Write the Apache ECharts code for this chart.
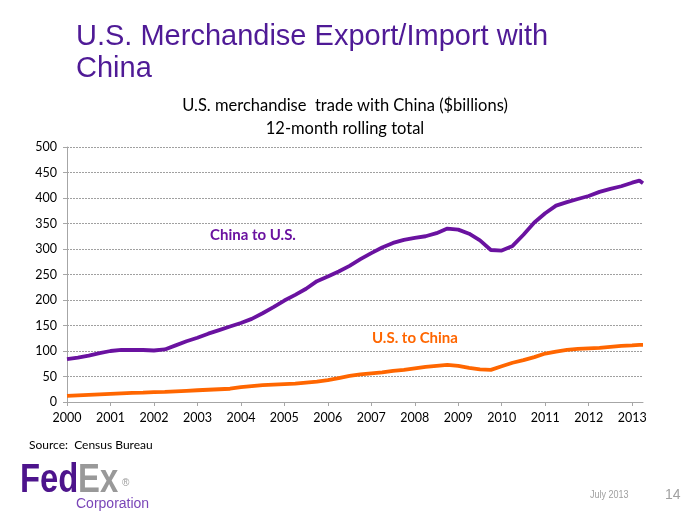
<!DOCTYPE html>
<html><head><meta charset="utf-8">
<script src="https://cdn.jsdelivr.net/npm/echarts@6/dist/echarts.min.js"></script>
<style>html,body{margin:0;padding:0;background:#fff}#c{width:700px;height:525px}</style>
</head><body><div id="c"></div>
<script>
// Time points (fractional years)
var years = [2000,2000.25,2000.5,2000.75,2001,2001.25,2001.5,2001.75,2002,2002.25,2002.5,2002.75,
2003,2003.25,2003.5,2003.75,2004,2004.25,2004.5,2004.75,2005,2005.25,2005.5,2005.75,
2006,2006.25,2006.5,2006.75,2007,2007.25,2007.5,2007.75,2008,2008.25,2008.5,2008.75,
2009,2009.25,2009.5,2009.75,2010,2010.25,2010.5,2010.75,2011,2011.25,2011.5,2011.75,
2012,2012.25,2012.5,2012.75,2013,2013.167,2013.25];
// China to U.S. ($ billions, 12-month rolling total)
var chinaToUS = [84,87,91,96,100,102,102,102,101,103,111,119,
126,134,141,148,155,163,174,186,199,210,222,237,
246,256,267,280,292,303,312,318,322,325,331,340,
338,330,317,298,297,306,328,352,370,385,392,398,
404,412,418,423,430,434,429];
// U.S. to China
var usToChina = [12,13,14,15,16,17,18,18.5,19.5,20,21,22,
23,24,25,26,29,31,33,34,35,36,38,40,
43,47,51,54,56,58,61,63,66,69,71,73,
71,67,64,63,70,77,82,88,95,99,102,104,
105,106,108,110,111,112,112];
var yTicks = {min:0, max:500, interval:50};
var xTicks = {min:2000, max:2013.25, interval:1};

function pairs(xs, ys){ return xs.map(function(x,i){ return [x, ys[i]]; }); }

var chart = echarts.init(document.getElementById('c'));
var purple = '#6a12a0', orange = '#ff6600';
chart.setOption({
  animation:false,
  grid:{left:67, right:57, top:147, bottom:123, containLabel:false},
  xAxis:{type:'value', min:xTicks.min, max:xTicks.max, interval:xTicks.interval,
    axisLine:{show:true, lineStyle:{color:'#a6a6a6', width:1}},
    axisTick:{show:true, length:4, lineStyle:{color:'#a6a6a6'}},
    splitLine:{show:false},
    axisLabel:{color:'#000', fontFamily:'Lato', fontSize:12.5, margin:9, showMaxLabel:false,
      formatter:function(v){ return (v % 1 === 0) ? String(v) : ''; }}
  },
  yAxis:{type:'value', min:yTicks.min, max:yTicks.max, interval:yTicks.interval,
    axisLine:{show:true, lineStyle:{color:'#a6a6a6', width:1}},
    axisTick:{show:true, length:4, lineStyle:{color:'#a6a6a6'}},
    splitLine:{show:true, lineStyle:{color:'#a0a0a0', type:[2,1], width:1}},
    axisLabel:{color:'#000', fontFamily:'Lato', fontSize:12.5, margin:10}
  },
  series:[
    {type:'line', data:pairs(years, chinaToUS), symbol:'none', lineStyle:{color:purple, width:3.8}, z:3},
    {type:'line', data:pairs(years, usToChina), symbol:'none', lineStyle:{color:orange, width:3.8}, z:3}
  ],
  graphic:[
    {type:'text', left:76, top:21, style:{text:'U.S. Merchandise Export/Import with\nChina', fill:'#4f1a96',
      font:'29px "Liberation Sans", Arial, sans-serif', lineHeight:32}},
    {type:'text', x:345, y:94, style:{text:'U.S. merchandise  trade with China ($billions)\n12-month rolling total', fill:'#000',
      font:'16.5px Lato, sans-serif', lineHeight:23, textAlign:'center'}},
    {type:'text', x:210, y:228, style:{text:'China to U.S.', fill:purple, font:'bold 15px Lato, sans-serif'}},
    {type:'text', x:372, y:331, style:{text:'U.S. to China', fill:orange, font:'bold 15px Lato, sans-serif'}},
    {type:'text', x:29, y:439, style:{text:'Source:  Census Bureau', fill:'#000', font:'12px Lato, sans-serif'}},
    {type:'text', x:20, y:461, scaleX:0.82, style:{text:'Fed', fill:'#4d148c', font:'bold 40px "Liberation Sans", Arial, sans-serif'}},
    {type:'text', x:78, y:461, scaleX:0.82, style:{text:'Ex', fill:'#999999', font:'bold 40px "Liberation Sans", Arial, sans-serif'}},
    {type:'text', x:122, y:478, style:{text:'®', fill:'#999999', font:'10px "Liberation Sans", Arial, sans-serif'}},
    {type:'text', x:76, y:497, style:{text:'Corporation', fill:'#7a46b8', font:'14px "Liberation Sans", Arial, sans-serif'}},
    {type:'text', x:590, y:490, scaleX:0.9, style:{text:'July 2013', fill:'#a0a0a0', font:'10px "Liberation Sans", Arial, sans-serif'}},
    {type:'text', x:665, y:488, style:{text:'14', fill:'#a0a0a0', font:'14px "Liberation Sans", Arial, sans-serif'}}
  ]
});
</script></body></html>
